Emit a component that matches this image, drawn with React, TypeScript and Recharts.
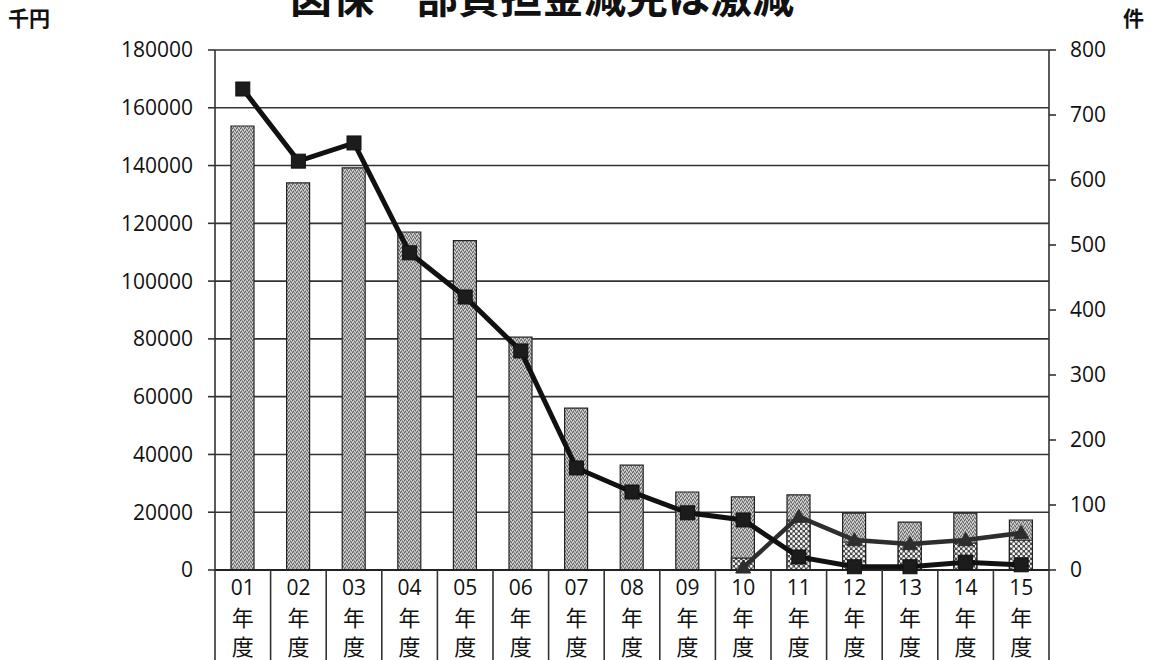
import React from 'react';
import { ComposedChart, Bar, Line, XAxis, YAxis, CartesianGrid } from 'recharts';

const categories = ['01', '02', '03', '04', '05', '06', '07', '08', '09', '10', '11', '12', '13', '14', '15'];
// 減免額 (千円), left axis
const reliefAmount = [153700, 134000, 139200, 117000, 114000, 80600, 56000, 36300, 27000, 25300, 26000, 19700, 16600, 19700, 17300];
// subset amount (dotted bars), left axis
const subsetAmount = [null, null, null, null, null, null, null, null, null, 4100, 17300, 9700, 8700, 9300, 10300];
// 件数, right axis
const reliefCases = [740, 629, 657, 488, 420, 337, 157, 120, 88, 77, 20, 5, 5, 12, 8];
const subsetCases = [null, null, null, null, null, null, null, null, null, 4, 82, 46, 40, 46, 57];

const leftTicks = [0, 20000, 40000, 60000, 80000, 100000, 120000, 140000, 160000, 180000];
const rightTicks = [0, 100, 200, 300, 400, 500, 600, 700, 800];

const TITLE = '図保一部負担金減免は激減';
const LEFT_UNIT = '千円';
const RIGHT_UNIT = '件';
const YEAR_CHARS = ['年', '度'];

const W = 1155;
const H = 660;
const LEFT_W = 215;
const RIGHT_W = 106;
const TOP = 50;
const XAXIS_H = 90;
const HALF_BAND = (W - LEFT_W - RIGHT_W) / categories.length / 2;

const data = categories.map((c, i) => ({
  cat: c,
  amount: reliefAmount[i],
  subset: subsetAmount[i],
  cases: reliefCases[i],
  subCases: subsetCases[i],
}));

const DIGIT_FONT = '"Open Sans", "Noto Sans", sans-serif';
const CJK_FONT = '"Noto Sans CJK JP", sans-serif';
const INK = '#111';

const XTick = (props: any) => {
  const { x, y, payload, index } = props;
  return (
    <g>
      <line x1={x - HALF_BAND} y1={y} x2={x - HALF_BAND} y2={y + XAXIS_H} stroke="#333" strokeWidth={1.6} />
      {index === categories.length - 1 && (
        <line x1={x + HALF_BAND} y1={y} x2={x + HALF_BAND} y2={y + XAXIS_H} stroke="#333" strokeWidth={1.6} />
      )}
      <text x={x} y={y + 25} textAnchor="middle" fontFamily={DIGIT_FONT} fontSize={21} fill={INK}>
        {payload.value}
      </text>
      <text x={x} y={y + 56} textAnchor="middle" fontFamily={CJK_FONT} fontSize={22} fill={INK}>
        {YEAR_CHARS[0]}
      </text>
      <text x={x} y={y + 85} textAnchor="middle" fontFamily={CJK_FONT} fontSize={22} fill={INK}>
        {YEAR_CHARS[1]}
      </text>
    </g>
  );
};

const SquareDot = (props: any) => {
  const { cx, cy, value } = props;
  if (value == null || cx == null || cy == null) return null;
  const s = 14;
  return <rect x={cx - s / 2} y={cy - s / 2} width={s} height={s} fill="#1c1c1c" stroke="#111" strokeWidth={1} />;
};

const TriangleDot = (props: any) => {
  const { cx, cy, value } = props;
  if (value == null || cx == null || cy == null) return null;
  const s = 7.5;
  return (
    <polygon
      points={`${cx},${cy - s} ${cx - s},${cy + s * 0.75} ${cx + s},${cy + s * 0.75}`}
      fill="#2e2e2e"
      stroke="#2e2e2e"
      strokeWidth={1}
    />
  );
};

export default function App() {
  return (
    <div style={{ position: 'absolute', left: 0, top: 0, width: W, height: H, background: '#fff' }}>
      <ComposedChart
        width={W}
        height={H}
        data={data}
        margin={{ top: TOP, right: 0, bottom: 0, left: 0 }}
        barGap={-23}
      >
        <defs>
          <pattern id="speckle" width="4" height="4" patternUnits="userSpaceOnUse">
            <rect width="4" height="4" fill="#a4a4a4" />
            <rect x="0" y="0" width="1" height="1" fill="#606060" />
            <rect x="2" y="1" width="1" height="1" fill="#6c6c6c" />
            <rect x="1" y="3" width="1" height="1" fill="#666" />
            <rect x="3" y="2" width="1" height="1" fill="#5e5e5e" />
            <rect x="1" y="1" width="1" height="1" fill="#dcdcdc" />
            <rect x="3" y="0" width="1" height="1" fill="#d0d0d0" />
            <rect x="0" y="2" width="1" height="1" fill="#e0e0e0" />
            <rect x="2" y="3" width="1" height="1" fill="#d4d4d4" />
          </pattern>
          <pattern id="dots" width="5" height="5" patternUnits="userSpaceOnUse">
            <rect width="5" height="5" fill="#4a4a4a" />
            <circle cx="1.25" cy="1.25" r="1.4" fill="#f4f4f4" />
            <circle cx="3.75" cy="3.75" r="1.4" fill="#f4f4f4" />
          </pattern>
        </defs>
        <CartesianGrid yAxisId="left" vertical={false} stroke="#333" strokeWidth={1.6} />
        <XAxis
          dataKey="cat"
          height={XAXIS_H}
          axisLine={{ stroke: '#222', strokeWidth: 2 }}
          tickLine={false}
          tickSize={0}
          tickMargin={0}
          interval={0}
          tick={<XTick />}
        />
        <YAxis
          yAxisId="left"
          orientation="left"
          width={LEFT_W}
          domain={[0, 180000]}
          ticks={leftTicks}
          interval={0}
          axisLine={{ stroke: '#333', strokeWidth: 1.6 }}
          tickLine={{ stroke: '#333', strokeWidth: 1.6 }}
          tickSize={7}
          tickMargin={15}
          tick={{ fontFamily: DIGIT_FONT, fontSize: 21, fill: INK }}
        />
        <YAxis
          yAxisId="right"
          orientation="right"
          width={RIGHT_W}
          domain={[0, 800]}
          ticks={rightTicks}
          interval={0}
          axisLine={{ stroke: '#333', strokeWidth: 1.6 }}
          tickLine={{ stroke: '#333', strokeWidth: 1.6 }}
          tickSize={7}
          tickMargin={14}
          tick={{ fontFamily: DIGIT_FONT, fontSize: 21, fill: INK }}
        />
        <Bar yAxisId="left" dataKey="amount" barSize={23} fill="url(#speckle)" stroke="#222" strokeWidth={1.2} isAnimationActive={false} />
        <Bar yAxisId="left" dataKey="subset" barSize={23} fill="url(#dots)" stroke="#222" strokeWidth={1.2} isAnimationActive={false} />
        <Line
          yAxisId="right"
          dataKey="subCases"
          stroke="#2e2e2e"
          strokeWidth={4.5}
          dot={<TriangleDot />}
          connectNulls={false}
          isAnimationActive={false}
        />
        <Line
          yAxisId="right"
          dataKey="cases"
          stroke="#111"
          strokeWidth={5}
          dot={<SquareDot />}
          isAnimationActive={false}
        />
      </ComposedChart>
      <svg width={W} height={H} style={{ position: 'absolute', left: 0, top: 0, pointerEvents: 'none' }}>
        <text x={290} y={13} fontFamily={CJK_FONT} fontSize={42} fontWeight={700} fill="#111">
          {TITLE}
        </text>
        <text x={8} y={26} fontFamily={CJK_FONT} fontSize={21} fontWeight={700} fill="#111">
          {LEFT_UNIT}
        </text>
        <text x={1123} y={26} fontFamily={CJK_FONT} fontSize={21} fontWeight={700} fill="#111">
          {RIGHT_UNIT}
        </text>
      </svg>
    </div>
  );
}
